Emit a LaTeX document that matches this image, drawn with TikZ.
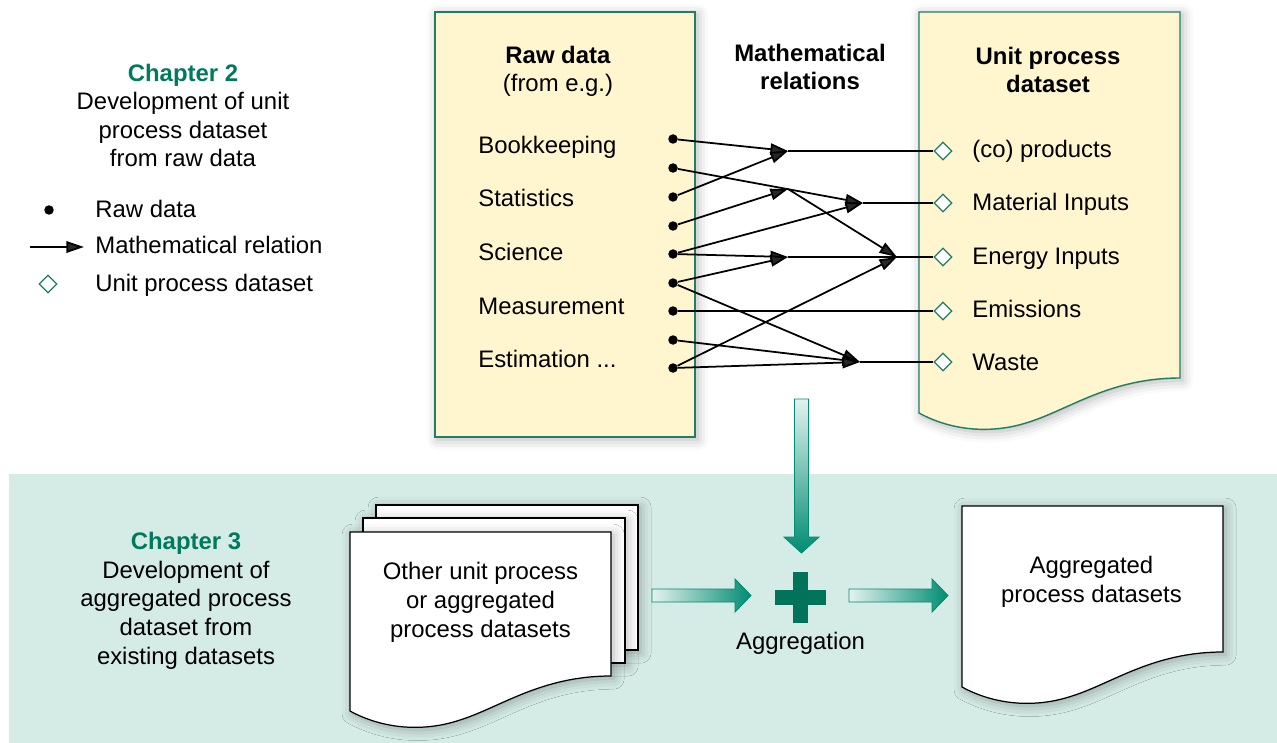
\documentclass[tikz,border=0pt]{standalone}
\usepackage{fontspec}
\setmainfont{Liberation Sans}
\usetikzlibrary{arrows.meta,shapes.geometric,shadows.blur}
\definecolor{boxyellow}{HTML}{FFF6D0}
\definecolor{boxgreen}{HTML}{1E7E66}
\definecolor{chapgreen}{HTML}{007A5E}
\definecolor{bandteal}{HTML}{D5EBE6}
\definecolor{arrowteal}{HTML}{008C72}
\definecolor{arrowlight}{HTML}{E4F2EE}
\definecolor{plusgreen}{HTML}{00735A}

\begin{document}
\begin{tikzpicture}[x=0.02cm, y=-0.02cm,
	every node/.style={font=\fontsize{13.6}{16.3}\selectfont, inner sep=0pt},
	txt/.style={anchor=base west},
	ctr/.style={anchor=base, align=center},
	softshadow/.style={blur shadow={shadow xshift=1.5pt, shadow yshift=-1.5pt, shadow blur radius=6pt, shadow opacity=30}},
	rawbox/.style={draw=boxgreen, fill=boxyellow, line width=0.8pt, softshadow},
	paper/.style={draw=black, fill=white, line width=0.7pt, softshadow},
	rawdot/.style={circle, fill=black, minimum size=0.19cm},
	updiamond/.style={diamond, draw=boxgreen, fill=white, line width=0.7pt, minimum size=0.36cm},
	rel/.style={line width=1pt, -{Triangle[length=10pt, width=6.5pt]}},
	link/.style={line width=1pt},
	blockarrow/.style={draw=arrowteal, line width=0.5pt}]
			\useasboundingbox (0, 0) rectangle (1277, 743);
			\fill [bandteal] (9, 474) rectangle (1277, 743);

			\draw [rawbox] (435, 12) rectangle (695, 437);
			\draw [rawbox] (919, 12) -- (1180, 12) -- (1180, 378) .. controls (1110, 378) and (1070, 409) .. (1029, 422) .. controls (990, 435) and (950, 430) .. (919, 413) -- cycle;

			\node [ctr] (rawtitle) at (558, 91.7) {\textbf{Raw data}\\(from e.g.)};
			\node [ctr] (reltitle) at (810, 90) {\textbf{Mathematical}\\\textbf{relations}};
			\node [ctr] (unittitle) at (1048, 92.7) {\textbf{Unit process}\\\textbf{dataset}};

			\node [txt] (src1) at (478, 154) {Bookkeeping};
			\node [txt] (src2) at (478, 207) {Statistics};
			\node [txt] (src3) at (478, 260) {Science};
			\node [txt] (src4) at (478, 314) {Measurement};
			\node [txt] (src5) at (478, 367) {Estimation ...};

			\node [rawdot] (d1) at (673, 139) {};
			\node [rawdot] (d2) at (673, 168) {};
			\node [rawdot] (d3) at (673, 197) {};
			\node [rawdot] (d4) at (673, 226) {};
			\node [rawdot] (d5) at (673, 254) {};
			\node [rawdot] (d6) at (673, 283) {};
			\node [rawdot] (d7) at (673, 311) {};
			\node [rawdot] (d8) at (673, 340) {};
			\node [rawdot] (d9) at (673, 368) {};

			\coordinate (r1) at (788, 151);
			\coordinate (r2) at (788, 189);
			\coordinate (r3) at (863, 203);
			\coordinate (r4) at (897, 257);
			\coordinate (r5) at (788, 257);
			\coordinate (r6) at (860, 362);

			\node [updiamond] (p1) at (943, 151) {};
			\node [updiamond] (p2) at (943, 203) {};
			\node [updiamond] (p3) at (943, 257) {};
			\node [updiamond] (p4) at (943, 311) {};
			\node [updiamond] (p5) at (943, 362) {};

			\node [txt] (out1) at (972, 157.5) {(co) products};
			\node [txt] (out2) at (972, 210.5) {Material Inputs};
			\node [txt] (out3) at (972, 264) {Energy Inputs};
			\node [txt] (out4) at (972, 317) {Emissions};
			\node [txt] (out5) at (972, 370) {Waste};

			\draw [link] (r1) -- (p1);
			\draw [link] (r3) -- (p2);
			\draw [link] (r5) -- (p3);
			\draw [link] (d7) -- (p4);
			\draw [link] (r6) -- (p5);
			\draw [rel] (d1) -- (r1);
			\draw [rel] (d3) -- (r1);
			\draw [rel] (d4) -- (r2);
			\draw [rel] (r2) -- (r4);
			\draw [rel] (d2) -- (r3);
			\draw [rel] (d5) -- (r3);
			\draw [rel] (d5) -- (r5);
			\draw [rel] (d6) -- (r5);
			\draw [rel] (d9) -- (r4);
			\draw [rel] (d6) -- (r6);
			\draw [rel] (d8) -- (r6);
			\draw [rel] (d9) -- (r6);

			\node [ctr] (chap2) at (183, 167) {\textcolor{chapgreen}{\textbf{Chapter 2}}\\Development of unit\\process dataset\\from raw data};
			\node [rawdot] (keydot) at (49, 210) {};
			\node [txt] (keydottext) at (95, 217) {Raw data};
			\coordinate (keyfrom) at (30, 247);
			\coordinate (keyto) at (84, 247);
			\draw [rel] (keyfrom) -- (keyto);
			\node [txt] (keyreltext) at (95, 254) {Mathematical relation};
			\node [updiamond] (keydiam) at (48, 284) {};
			\node [txt] (keydiamtext) at (95, 291) {Unit process dataset};

			\node [ctr] (chap3) at (186, 664) {\textcolor{chapgreen}{\textbf{Chapter 3}}\\Development of\\aggregated process\\dataset from\\existing datasets};

			\draw [paper] (376, 505) rectangle (638, 650);
			\draw [paper] (363, 518) rectangle (625, 663);
			\draw [paper] (350, 532) -- (611, 532) -- (611, 676) .. controls (541, 676) and (501, 707) .. (460, 720) .. controls (421, 733) and (381, 728) .. (350, 711) -- cycle;
			\node [ctr] (othersets) at (480.5, 637) {Other unit process\\or aggregated\\process datasets};

			\draw [paper] (962, 506) -- (1223, 506) -- (1223, 652) .. controls (1153, 652) and (1113, 683) .. (1072, 696) .. controls (1033, 709) and (993, 704) .. (962, 687) -- cycle;
			\node [ctr] (aggsets) at (1091.5, 602) {Aggregated\\process datasets};

			\draw [blockarrow, top color=arrowlight, bottom color=arrowteal] (794.5, 399) -- (808.5, 399) -- (808.5, 537) -- (819, 537) -- (801.5, 553) -- (784, 537) -- (794.5, 537) -- cycle;
			\draw [blockarrow, left color=arrowlight, right color=arrowteal] (652, 589) -- (735, 589) -- (735, 579) -- (751, 595.5) -- (735, 612) -- (735, 602) -- (652, 602) -- cycle;
			\draw [blockarrow, left color=arrowlight, right color=arrowteal] (849, 589) -- (932, 589) -- (932, 579) -- (948, 595.5) -- (932, 612) -- (932, 602) -- (849, 602) -- cycle;
			\fill [plusgreen] (775, 590) rectangle (826, 605);
			\fill [plusgreen] (793, 572) rectangle (808, 623);
			\node [ctr] (aggtext) at (800.5, 649) {Aggregation};
		\end{tikzpicture}
\end{document}
